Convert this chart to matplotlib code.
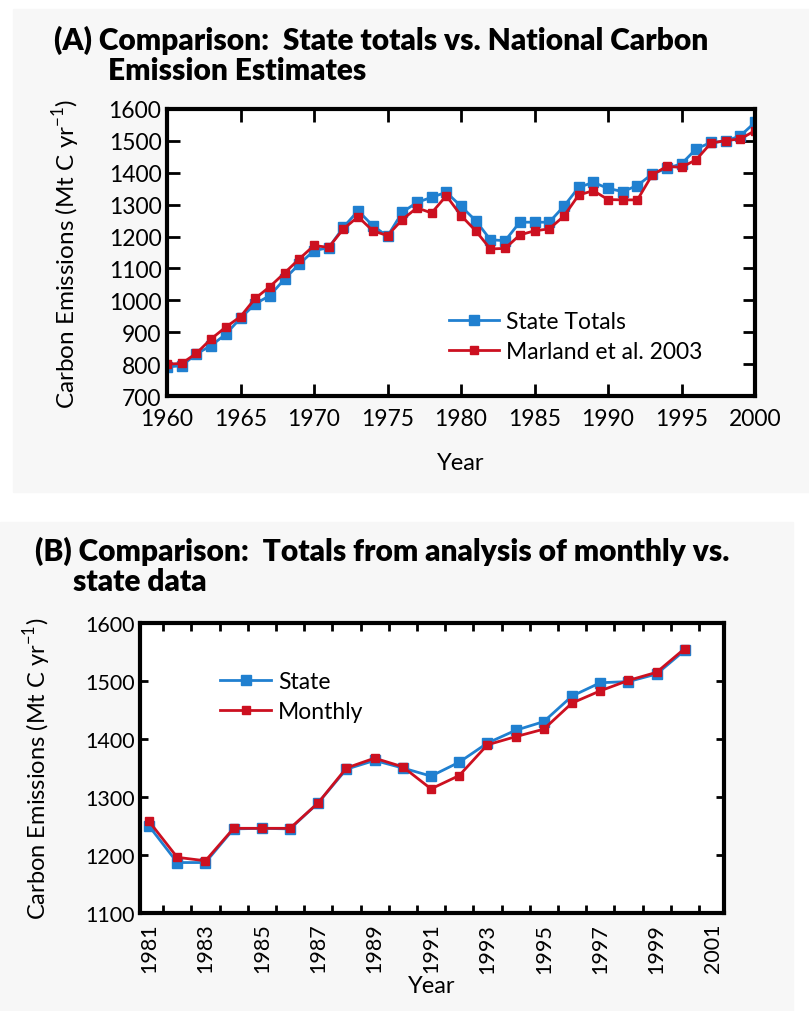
import numpy as np
import matplotlib.pyplot as plt
from matplotlib.patches import Rectangle

plt.rcParams['font.family'] = ['Lato', 'DejaVu Sans']

# Panel A data: state totals vs. Marland et al. 2003
years_a = list(range(1960, 2001))
state_a = [791, 795, 832, 858, 894, 944, 989, 1015, 1067, 1114,
           1156, 1165, 1229, 1281, 1234, 1201, 1276, 1307, 1323, 1339,
           1295, 1250, 1190, 1187, 1245, 1245, 1245, 1295, 1354, 1370,
           1351, 1341, 1360, 1396, 1414, 1428, 1475, 1495, 1499, 1516,
           1558]
marland_a = [800, 802, 834, 879, 916, 949, 1006, 1043, 1086, 1130,
             1172, 1166, 1224, 1262, 1218, 1203, 1253, 1290, 1274, 1328,
             1266, 1218, 1161, 1163, 1205, 1218, 1224, 1264, 1330, 1344,
             1316, 1315, 1315, 1393, 1420, 1417, 1441, 1493, 1501, 1506,
             1532]

# Panel B data: state vs. monthly totals
years_b = list(range(1981, 2001))
state_b = [1250, 1187, 1187, 1245, 1246, 1245, 1290, 1348, 1363, 1350,
           1336, 1360, 1393, 1415, 1430, 1474, 1497, 1499, 1512, 1553]
monthly_b = [1258, 1196, 1190, 1246, 1246, 1246, 1290, 1350, 1367, 1352,
             1314, 1337, 1390, 1404, 1417, 1462, 1483, 1501, 1515, 1556]

blue = '#2080d0'
red = '#cc1020'

fig = plt.figure(figsize=(8.09, 10.12), dpi=100)
fig.patches.append(Rectangle((13 / 809, 1 - 493 / 1012), 796 / 809, 483 / 1012,
                             transform=fig.transFigure, color='#f7f7f7', zorder=-10))
fig.patches.append(Rectangle((0, 0), 793 / 809, 1 - 523 / 1012,
                             transform=fig.transFigure, color='#f7f7f7', zorder=-10))

ylab = 'Carbon Emissions (Mt C yr$^{\\mathregular{-1}}$)'

# ---------------- Panel A
ax1 = fig.add_axes([167 / 809, 1 - 397 / 1012, 588 / 809, 287 / 1012])
ax1.plot(years_a, state_a, '-s', color=blue, lw=2, ms=7, label='State Totals')
ax1.plot(years_a, marland_a, '-s', color=red, lw=2, ms=6, label='Marland et al. 2003')
ax1.set_xlim(1960, 2000)
ax1.set_ylim(700, 1600)
ax1.set_xticks(range(1960, 2001, 5))
ax1.set_yticks(range(700, 1601, 100))
ax1.tick_params(direction='in', length=9, width=2, top=True, right=True,
                labelsize=16.5)
ax1.tick_params(axis='x', pad=9)
ax1.tick_params(axis='y', pad=4)
for s in ax1.spines.values():
    s.set_linewidth(3)
ax1.set_xlabel('Year', fontsize=17)
ax1.xaxis.set_label_coords(0.5, -0.196)
ax1.set_ylabel(ylab, fontsize=17.5)
ax1.yaxis.set_label_coords(-0.145, 0.5)
ax1.legend(loc='lower left', bbox_to_anchor=(0.464, 0.087), frameon=False,
           fontsize=16.5, handlelength=2.2, handletextpad=0.3,
           labelspacing=0.4, borderaxespad=0)

fig.text(54 / 809, 1 - 40 / 1012, '(A) Comparison:  State totals vs. National Carbon',
         fontsize=21.5, fontweight='heavy', va='center')
fig.text(108 / 809, 1 - 71 / 1012, 'Emission Estimates',
         fontsize=21.5, fontweight='heavy', va='center')

# ---------------- Panel B
ax2 = fig.add_axes([140 / 809, 1 - 914 / 1012, 584 / 809, 290 / 1012])
ax2.plot(years_b, state_b, '-s', color=blue, lw=2, ms=7, label='State')
ax2.plot(years_b, monthly_b, '-s', color=red, lw=2, ms=6, label='Monthly')
ax2.set_xlim(1980.68, 2001.39)
ax2.set_ylim(1100, 1600)
ax2.set_yticks(range(1100, 1601, 100))
ax2.set_xticks(np.arange(1981.5, 2001, 1.0))
ax2.set_xticklabels([])
ax2.set_xticks(range(1981, 2002, 2), minor=True)
ax2.set_xticklabels([str(y) for y in range(1981, 2002, 2)], minor=True,
                    rotation=90)
ax2.tick_params(which='major', direction='in', length=6, width=2,
                top=True, right=True, labelsize=15.5)
ax2.tick_params(which='minor', length=0, labelsize=15.5, pad=7)
ax2.tick_params(axis='y', pad=4)
for s in ax2.spines.values():
    s.set_linewidth(3)
ax2.set_xlabel('Year', fontsize=17)
ax2.xaxis.set_label_coords(0.5, -0.215)
ax2.set_ylabel(ylab, fontsize=17)
ax2.yaxis.set_label_coords(-0.149, 0.5)
ax2.legend(loc='upper left', bbox_to_anchor=(0.122, 0.865), frameon=False,
           fontsize=16.5, handlelength=2.2, handletextpad=0.3,
           labelspacing=0.4, borderaxespad=0)

fig.text(35 / 809, 1 - 551 / 1012, '(B) Comparison:  Totals from analysis of monthly vs.',
         fontsize=21.5, fontweight='heavy', va='center')
fig.text(73 / 809, 1 - 582 / 1012, 'state data',
         fontsize=21.5, fontweight='heavy', va='center')

fig.savefig('out.png', dpi=100)
